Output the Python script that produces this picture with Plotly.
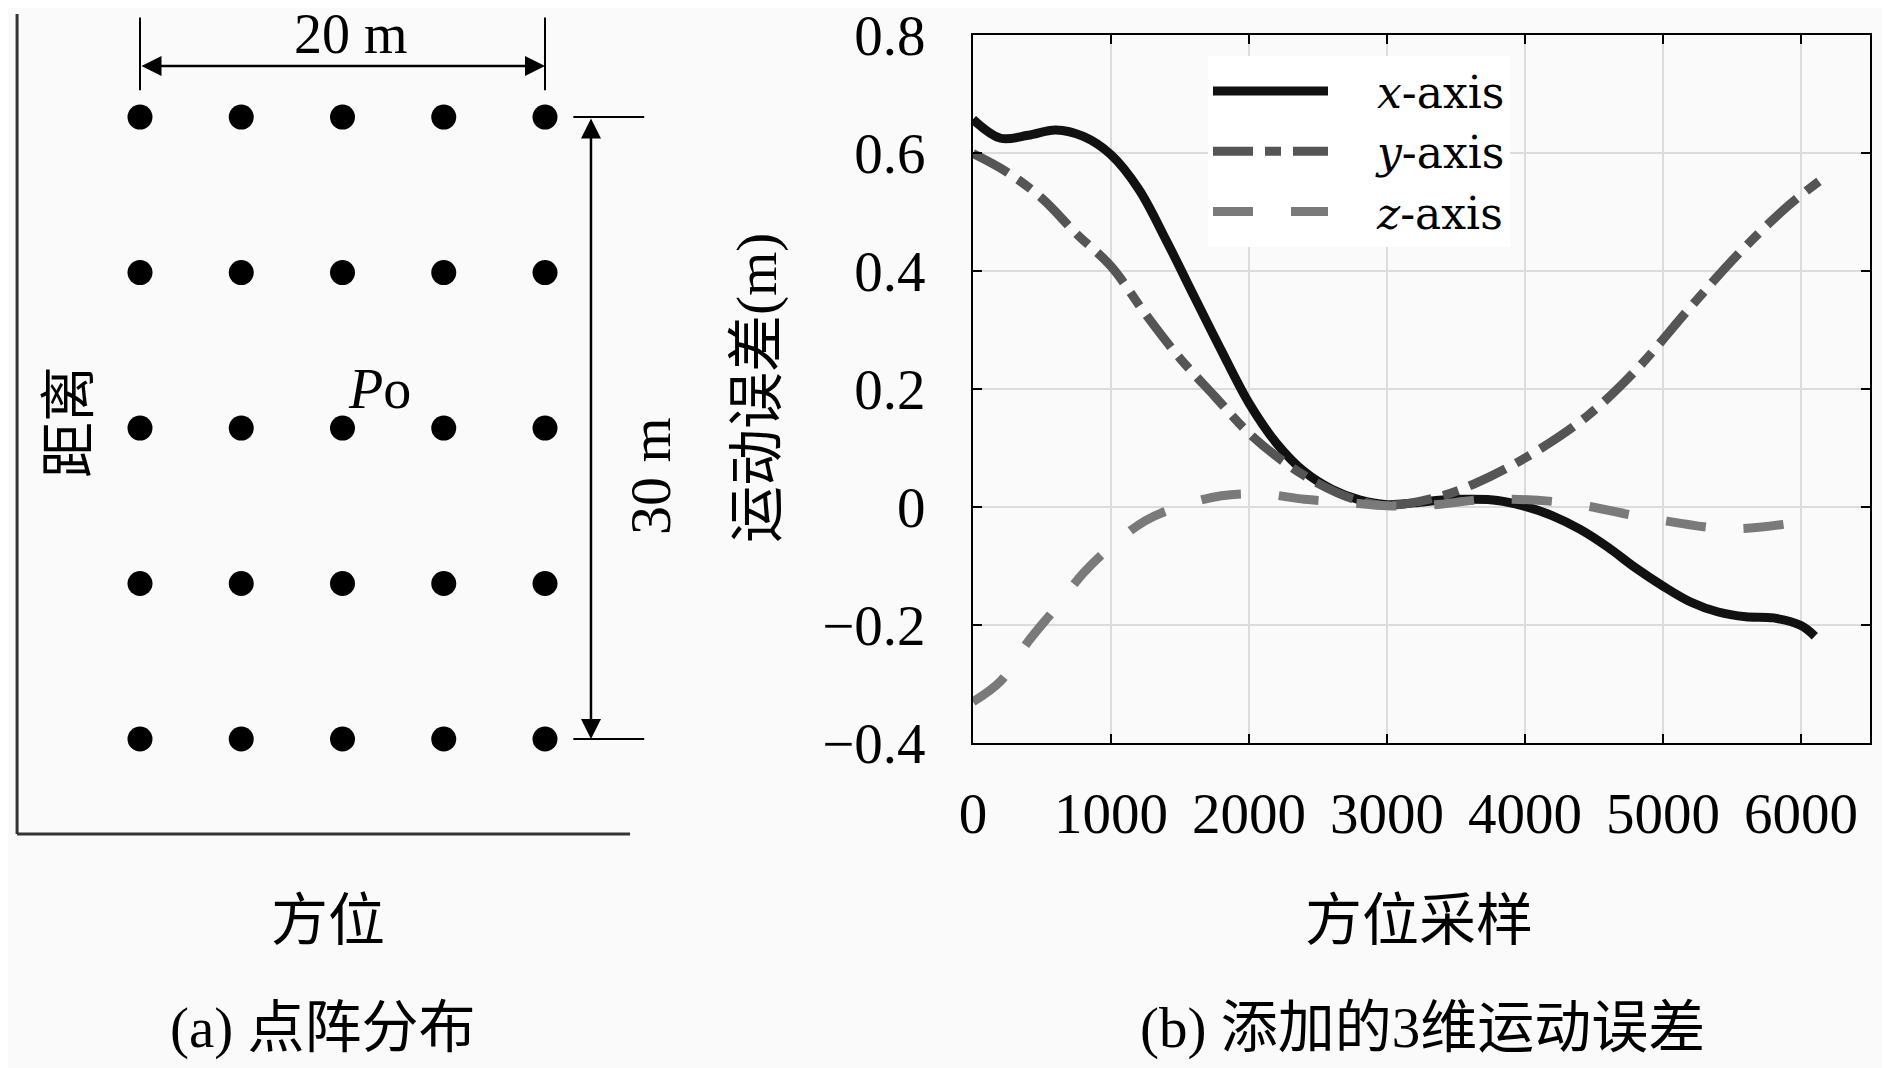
import plotly.graph_objects as go

# ---- panel (b): motion error curves ----
samples_x = [0, 200, 400, 600, 800, 1000, 1200, 1400, 1600, 1800, 2000, 2200, 2400, 2600,
             2800, 3000, 3200, 3400, 3600, 3800, 4000, 4200, 4400, 4600, 4800, 5000, 5200,
             5400, 5600, 5800, 6000, 6100]
err_x = [0.657, 0.625, 0.630, 0.639, 0.628, 0.597, 0.539, 0.452, 0.358, 0.265, 0.176,
         0.108, 0.060, 0.030, 0.012, 0.004, 0.007, 0.012, 0.013, 0.011, 0.001, -0.015,
         -0.038, -0.068, -0.103, -0.134, -0.161, -0.178, -0.186, -0.188, -0.201, -0.219]

samples_y = [0, 250, 500, 750, 1000, 1250, 1500, 1750, 2000, 2250, 2500, 2750, 3000, 3400,
             3750, 4100, 4450, 4800, 5200, 5550, 5900, 6130]
err_y = [0.599, 0.567, 0.523, 0.463, 0.408, 0.327, 0.252, 0.188, 0.125, 0.077, 0.040,
         0.014, 0.003, 0.019, 0.052, 0.097, 0.154, 0.231, 0.339, 0.430, 0.509, 0.552]

samples_z = [0, 200, 400, 600, 800, 1000, 1250, 1500, 1800, 2100, 2400, 2700, 3000, 3300,
             3750, 4300, 4900, 5500, 6030, 6130]
err_z = [-0.330, -0.295, -0.228, -0.171, -0.112, -0.067, -0.023, 0.001, 0.019, 0.022,
         0.013, 0.008, 0.002, 0.003, 0.013, 0.007, -0.019, -0.037, -0.025, -0.024]

y_ticks = [0.8, 0.6, 0.4, 0.2, 0, -0.2, -0.4]
y_ticktext = ["0.8", "0.6", "0.4", "0.2", "0", "\u22120.2", "\u22120.4"]
x_ticks = [0, 1000, 2000, 3000, 4000, 5000, 6000]

# ---- panel (a): point grid (metres) ----
grid_cols = [0, 5, 10, 15, 20]
grid_rows = [0, 7.5, 15, 22.5, 30]

# page has an 8px body margin, so the figure is shrunk by that much
OFF = 8
W, H = 1890 - OFF, 1068 - OFF
SERIF = "Liberation Serif, Noto Sans CJK SC, serif"
BG = "#fafafa"


def fx(p):
    return (p - OFF) / W


def fy(p):
    return 1 - (p - OFF) / H


# panel (a) scale: dot (0 m, 0 m) sits at page px (140, 739)
X0, Y0, SX, SY = 140, 739, 20.25, 20.73
A_DOM = 0.4
a_xrange = [(OFF - X0) / SX, (OFF + A_DOM * W - X0) / SX]
a_yrange = [(Y0 - 1068) / SY, (Y0 - OFF) / SY]

fig = go.Figure()

px_, py_ = [], []
for r in grid_rows:
    for c in grid_cols:
        px_.append(c)
        py_.append(r)
fig.add_trace(go.Scatter(x=px_, y=py_, mode="markers", xaxis="x2", yaxis="y2",
                         marker=dict(color="black", size=25), showlegend=False,
                         hoverinfo="skip"))

gap = "\u2002\u2002"
fig.add_trace(go.Scatter(x=samples_x, y=err_x, mode="lines", name=gap + "<i>x</i>-axis",
                         line=dict(color="#111111", width=9, shape="spline")))
fig.add_trace(go.Scatter(x=samples_y, y=err_y, mode="lines", name=gap + "<i>y</i>-axis",
                         line=dict(color="#555555", width=9, shape="spline",
                                   dash="40px,12px,16px,12px")))
fig.add_trace(go.Scatter(x=samples_z, y=err_z, mode="lines", name=gap + "<i>z</i>-axis",
                         line=dict(color="#7a7a7a", width=9, shape="spline",
                                   dash="40px,38px")))

axis_common = dict(showline=True, linecolor="black", linewidth=2, mirror="ticks",
                   ticks="inside", ticklen=9, tickcolor="black", tickwidth=1.5,
                   showgrid=True, gridcolor="#dcdcdc", gridwidth=1.5, zeroline=False,
                   automargin=False, ticklabeloverflow="allow",
                   tickfont=dict(family=SERIF, size=57, color="black"))

fig.update_layout(
    width=W, height=H,
    margin=dict(l=0, r=0, t=0, b=0, autoexpand=False),
    paper_bgcolor=BG, plot_bgcolor=BG,
    font=dict(family=SERIF, color="black"),
    xaxis=dict(domain=[fx(973), fx(1870)], range=[0, 6500], tickvals=x_ticks,
               ticklabelstandoff=20, **axis_common),
    yaxis=dict(domain=[fy(743), fy(35)], range=[-0.4, 0.8], tickvals=y_ticks,
               ticktext=y_ticktext, ticklabelstandoff=34, **axis_common),
    xaxis2=dict(domain=[0, A_DOM], range=a_xrange, visible=False, anchor="y2",
                automargin=False),
    yaxis2=dict(domain=[0, 1], range=a_yrange, visible=False, anchor="x2",
                automargin=False),
    legend=dict(x=fx(1208), y=fy(56), xanchor="left", yanchor="top",
                bgcolor="white", borderwidth=0, itemwidth=115,
                font=dict(family="DejaVu Serif, serif", size=44, color="black"),
                tracegroupgap=0),
)

# axis frame of panel (a)
lx, by, ty, rx = -6.07, -4.58, 34.97, 24.2
fig.add_shape(type="line", xref="x2", yref="y2", x0=lx, x1=lx, y0=by, y1=ty,
              line=dict(color="#333", width=3))
fig.add_shape(type="line", xref="x2", yref="y2", x0=lx, x1=rx, y0=by, y1=by,
              line=dict(color="#333", width=3))

# dimension marks
for c in [grid_cols[0], grid_cols[-1]]:
    fig.add_shape(type="line", xref="x2", yref="y2", x0=c, x1=c, y0=31.3, y1=34.8,
                  line=dict(color="black", width=2))
for r in [grid_rows[0], grid_rows[-1]]:
    fig.add_shape(type="line", xref="x2", yref="y2", x0=21.4, x1=24.9, y0=r, y1=r,
                  line=dict(color="black", width=2))

arrow = dict(xref="x2", yref="y2", axref="x2", ayref="y2", text="", showarrow=True,
             arrowhead=2, arrowside="end+start", arrowsize=1.6, arrowwidth=2.5,
             arrowcolor="black", standoff=0, startstandoff=0)
fig.add_annotation(x=grid_cols[-1], y=32.47, ax=grid_cols[0], ay=32.47, **arrow)
fig.add_annotation(x=22.27, y=grid_rows[0], ax=22.27, ay=grid_rows[-1], **arrow)


def txt(size):
    return dict(showarrow=False, xref="x2", yref="y2",
                font=dict(family=SERIF, size=size, color="black"))


fig.add_annotation(x=10.4, y=34.0, text="20 m", **txt(56))
fig.add_annotation(x=25.2, y=12.7, text="30 m", textangle=-90, **txt(58))
fig.add_annotation(x=11.85, y=16.9, text="<i>P</i>o", **txt(56))
fig.add_annotation(x=-3.5, y=15.3, text="距离", textangle=-90, **txt(56))

lab = dict(showarrow=False, xref="paper", yref="paper", xanchor="center",
           yanchor="middle", font=dict(family=SERIF, size=57, color="black"))
fig.add_annotation(x=fx(328), y=fy(920), text="方位", **lab)
fig.add_annotation(x=fx(323), y=fy(1028), text="(a) 点阵分布", **lab)
fig.add_annotation(x=fx(1419), y=fy(920), text="方位采样", **lab)
fig.add_annotation(x=fx(1422), y=fy(1028), text="(b) 添加的3维运动误差", **lab)
fig.add_annotation(x=fx(757), y=fy(388), text="运动误差(m)", textangle=-90, **lab)

fig.write_html("out.html")
